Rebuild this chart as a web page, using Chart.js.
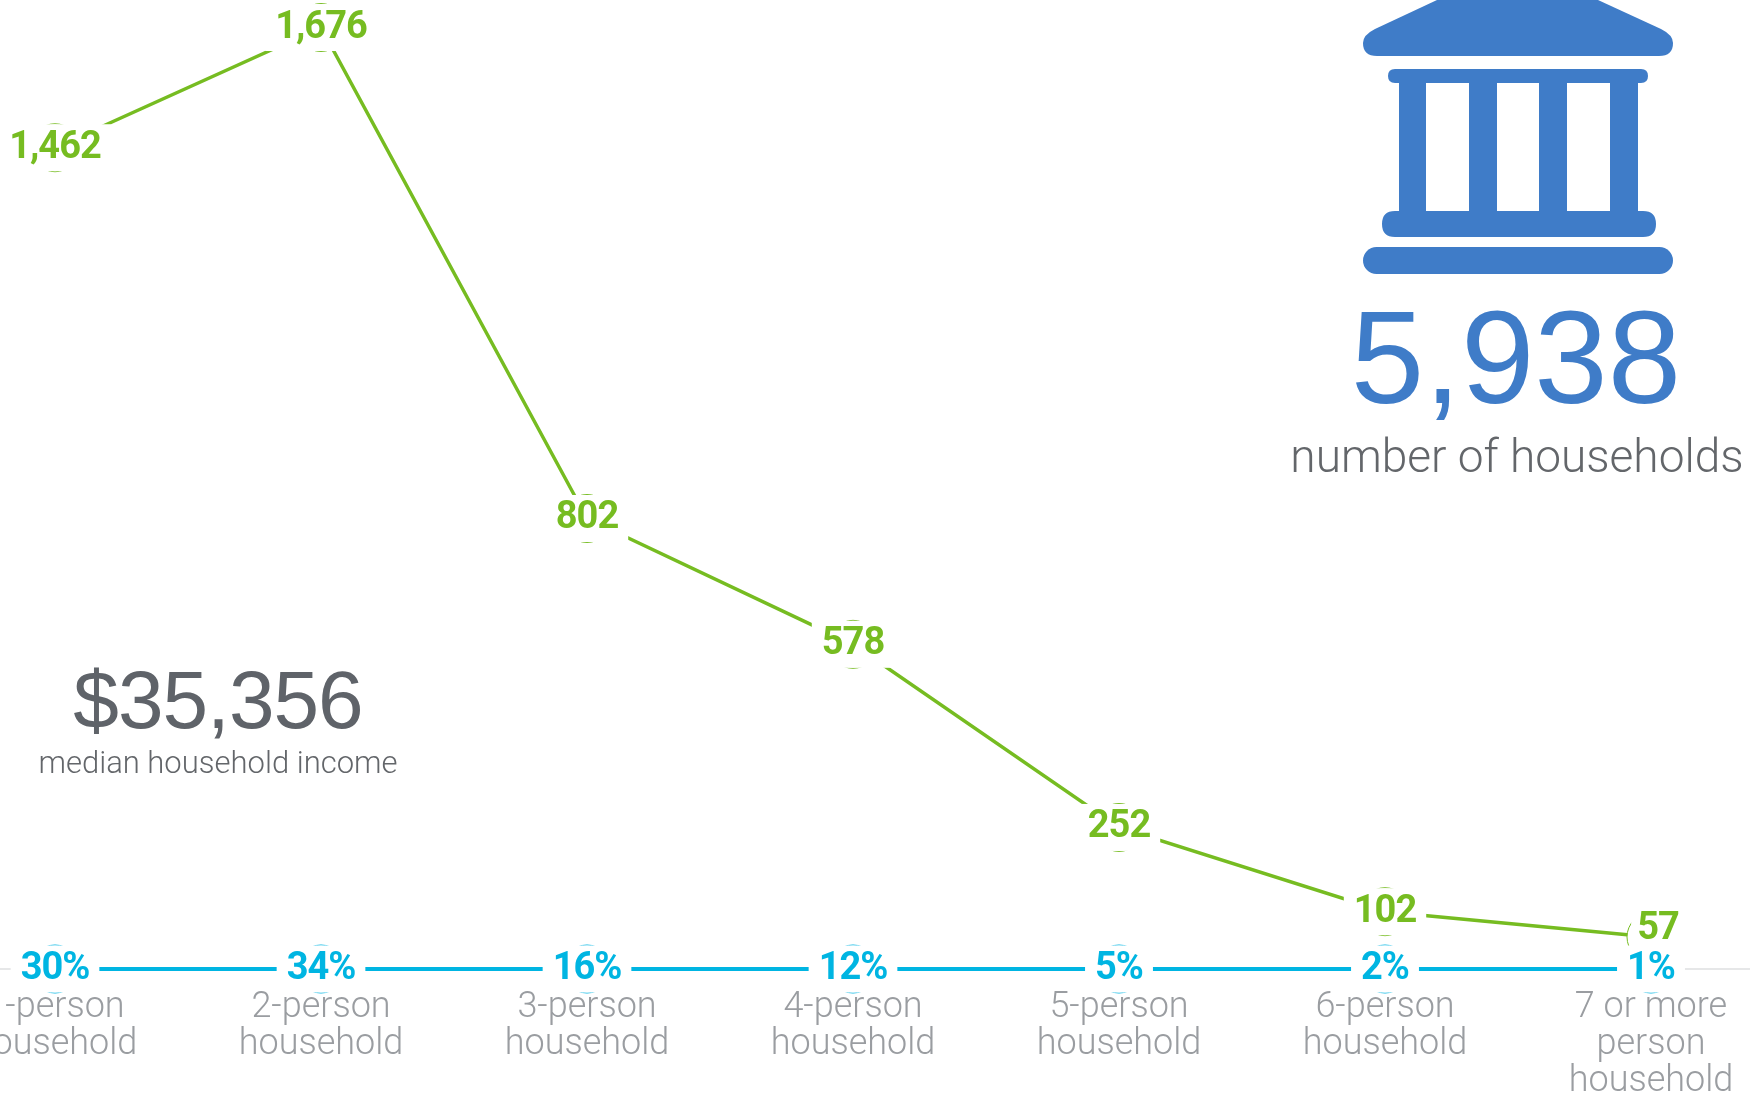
<!DOCTYPE html>
<html>
<head>
<meta charset="utf-8">
<title>Households by size</title>
<script src="https://cdn.jsdelivr.net/npm/chart.js@4/dist/chart.umd.min.js"></script>
<style>
  html, body { margin: 0; background: #fff; overflow: hidden; }
  #wrap { position: relative; width: 1750px; height: 1094px; overflow: hidden; font-family: Roboto, sans-serif; }
  canvas { position: absolute; left: 0; top: 0; }
  .kpi { position: absolute; text-align: center; white-space: nowrap; font-weight: 300; }
  .big { font-family: "Liberation Sans", sans-serif; font-weight: 400; }
  #icon { position: absolute; left: 1363px; top: 0; }
</style>
</head>
<body>
<div id="wrap">
  <canvas id="chart" width="1750" height="1094"></canvas>
  <svg id="icon" width="310" height="274" viewBox="0 0 310 274">
    <path fill="#3f7cc8" d="M74 0H235L298 29Q310 35 310 43Q310 56 296 56H14Q0 56 0 43Q0 35 12 29Z"/>
    <path fill="#3f7cc8" fill-rule="evenodd" d="M32 69H278Q285 69 285 76Q285 83 278 83H275V211H280Q293 211 293 224Q293 237 280 237H32Q19 237 19 224Q19 211 32 211H36V83H32Q25 83 25 76Q25 69 32 69ZM63 83V211H106V83ZM134 83V211H176V83ZM204 83V211H247V83Z"/>
    <rect fill="#3f7cc8" x="0" y="247" width="310" height="27" rx="13.5"/>
  </svg>
  <div class="kpi big" style="left:1266px;width:500px;top:283px;font-size:132px;line-height:150px;color:#3f7cc8">5,938</div>
  <div class="kpi" style="left:1267px;width:500px;top:429px;font-size:46px;line-height:54px;color:#63666a">number of households</div>
  <div class="kpi big" style="left:18px;width:400px;top:650px;font-size:82px;letter-spacing:-1px;line-height:100px;color:#5f6369">$35,356</div>
  <div class="kpi" style="left:18px;width:400px;top:744px;font-size:31px;line-height:38px;color:#63666a">median household income</div>
</div>
<script>
const categories = [
  ['1-person', 'household'],
  ['2-person', 'household'],
  ['3-person', 'household'],
  ['4-person', 'household'],
  ['5-person', 'household'],
  ['6-person', 'household'],
  ['7 or more', 'person', 'household'],
];
const households = [1462, 1676, 802, 578, 252, 102, 57];
const shares = [30, 34, 16, 12, 5, 2, 1];
const shareBaseline = [0, 0, 0, 0, 0, 0, 0];

const GREEN = '#76bc21';
const BLUE = '#00b5e2';

// white plate + bold number on top of each point
function drawLabels(chart, index, texts, color) {
  const ctx = chart.ctx;
  const points = chart.getDatasetMeta(index).data;
  ctx.save();
  ctx.font = '700 38px Roboto, sans-serif';
  ctx.letterSpacing = '-1px';
  ctx.textAlign = 'center';
  ctx.textBaseline = 'alphabetic';
  points.forEach((pt, i) => {
    const last = index === 0 && i === points.length - 1; // "57" sits off its point
    const x = pt.x + (last ? 7 : 0);
    const y = pt.y + (last ? -8 : 0);
    const w = ctx.measureText(texts[i]).width + (last ? 12 : 20);
    ctx.fillStyle = '#fff';
    ctx.fillRect(x - w / 2, y - 23.5, w, 47);
    ctx.fillStyle = color;
    ctx.fillText(texts[i], x, y + 10);
  });
  ctx.restore();
}

const labelPlugin = {
  id: 'pointLabels',
  beforeDatasetsDraw(chart) {
    const y = chart.scales.y.getPixelForValue(0);
    const ctx = chart.ctx;
    ctx.save();
    ctx.strokeStyle = '#e6e7e8';
    ctx.lineWidth = 2;
    ctx.beginPath();
    ctx.moveTo(0, y);
    ctx.lineTo(chart.width, y);
    ctx.stroke();
    ctx.restore();
  },
  afterDatasetsDraw(chart) {
    drawLabels(chart, 0, households.map(v => v.toLocaleString('en-US')), GREEN);
    drawLabels(chart, 1, shares.map(v => v + '%'), BLUE);
  },
};

new Chart(document.getElementById('chart').getContext('2d'), {
  type: 'line',
  data: {
    labels: categories,
    datasets: [
      {
        label: 'Households',
        data: households,
        borderColor: GREEN,
        borderWidth: 3.5,
        pointRadius: 24,
        pointBorderWidth: 1,
        pointBorderColor: GREEN,
        pointBackgroundColor: '#fff',
        tension: 0,
        clip: false,
      },
      {
        label: 'Share of households',
        data: shareBaseline,
        borderColor: BLUE,
        borderWidth: 4,
        pointRadius: 24,
        pointBorderWidth: 1,
        pointBorderColor: BLUE,
        pointBackgroundColor: '#fff',
        tension: 0,
        clip: false,
      },
    ],
  },
  options: {
    responsive: false,
    animation: false,
    layout: { autoPadding: false, padding: { left: 55, right: 99, top: 0, bottom: 0 } },
    plugins: { legend: { display: false }, tooltip: { enabled: false } },
    scales: {
      x: {
        grid: { display: false },
        border: { display: false },
        ticks: {
          color: '#9a9da1',
          font: { family: 'Roboto, sans-serif', size: 36, weight: 300, lineHeight: '37px' },
          padding: 12,
          maxRotation: 0,
          autoSkip: false,
        },
        afterFit(scale) {
          scale.paddingLeft = 0;
          scale.paddingRight = 0;
          scale.height = 125;
        },
      },
      y: { display: false, min: 0, max: 1725 },
    },
  },
  plugins: [labelPlugin],
});
</script>
</body>
</html>
